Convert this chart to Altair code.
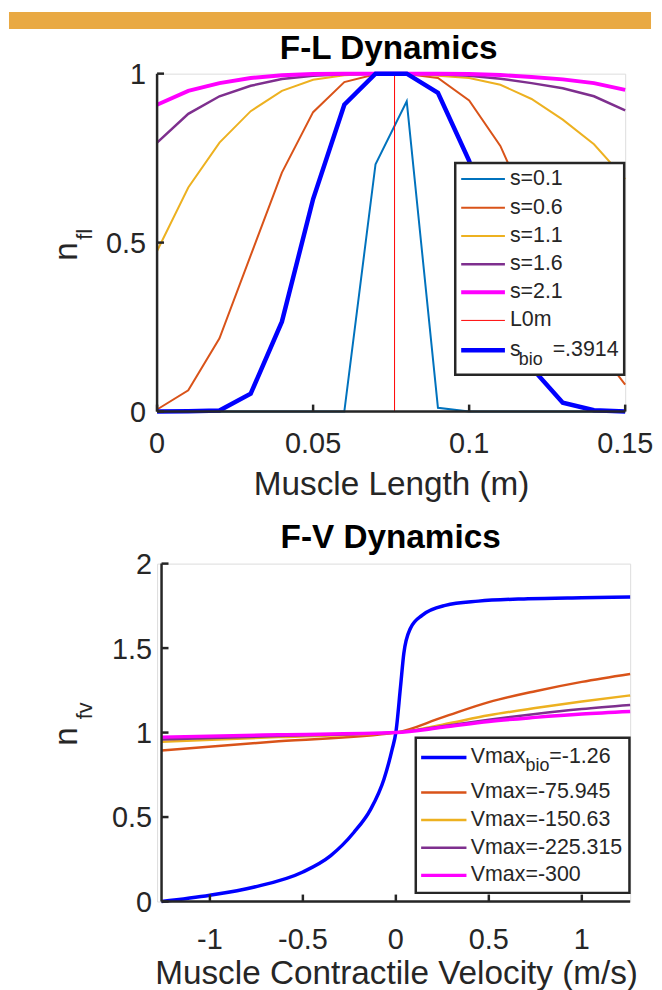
import altair as alt
import pandas as pd

FONT = "Liberation Sans"
TXT = "#262626"

# ---------------- F-L Dynamics data ----------------
muscle_length = [0.00, 0.01, 0.02, 0.03, 0.04, 0.05, 0.06, 0.07,
                 0.08, 0.09, 0.10, 0.11, 0.12, 0.13, 0.14, 0.15]
fl_s01 = [0, 0, 0, 0, 0, 0, 0, 0.732, 0.918, 0.011, 0, 0, 0, 0, 0, 0]
fl_s06 = [0.006, 0.063, 0.217, 0.462, 0.707, 0.886, 0.975, 0.998,
          0.999, 0.987, 0.921, 0.786, 0.580, 0.380, 0.200, 0.080]
fl_s11 = [0.475, 0.663, 0.796, 0.889, 0.949, 0.982, 0.995, 1.0,
          1.0, 0.994, 0.987, 0.967, 0.925, 0.864, 0.791, 0.688]
fl_s16 = [0.796, 0.881, 0.933, 0.964, 0.984, 0.994, 0.998, 1.0,
          1.0, 0.998, 0.994, 0.985, 0.972, 0.957, 0.933, 0.891]
fl_s21 = [0.908, 0.949, 0.972, 0.987, 0.995, 0.999, 1.0, 1.0,
          1.0, 1.0, 0.999, 0.996, 0.990, 0.983, 0.972, 0.952]
fl_sbio = [0, 0.001, 0.003, 0.053, 0.266, 0.629, 0.908, 1.0,
           1.0, 0.943, 0.742, 0.420, 0.130, 0.026, 0.004, 0]
L0m = 0.0761
fl_labels = ["s=0.1", "s=0.6", "s=1.1", "s=1.6", "s=2.1", "L0m", "s"]
fl_bio_sub = "bio"
fl_bio_rest = "=.3914"
fl_colors = ["#0072BD", "#D95319", "#EDB120", "#7E2F8E", "#FF00FF", "#FF0000", "#0000FF"]
fl_widths = [2, 2, 2, 2.5, 4, 1, 4.5]

# ---------------- F-V Dynamics data ----------------
v_bio = [-1.26, -1.0, -0.76, -0.5, -0.35, -0.225, -0.135, -0.064, -0.02, 0.0,
         0.025, 0.043, 0.078, 0.141, 0.266, 0.444, 0.711, 1.0, 1.26]
fv_bio = [0.0, 0.037, 0.086, 0.175, 0.272, 0.41, 0.547, 0.724, 0.9, 1.0,
          1.27, 1.47, 1.616, 1.694, 1.753, 1.778, 1.792, 1.798, 1.802]
v_grid = [-1.26, -0.63, 0.0, 0.25, 0.5, 0.75, 1.0, 1.26]
fv_75 = [0.894, 0.948, 1.0, 1.09, 1.18, 1.245, 1.30, 1.347]
fv_150 = [0.945, 0.973, 1.0, 1.047, 1.102, 1.145, 1.184, 1.22]
fv_225 = [0.959, 0.980, 1.0, 1.037, 1.076, 1.110, 1.139, 1.163]
fv_300 = [0.973, 0.987, 1.0, 1.031, 1.066, 1.090, 1.110, 1.125]
fv_labels = ["Vmax", "Vmax=-75.945", "Vmax=-150.63", "Vmax=-225.315", "Vmax=-300"]
fv_bio_sub = "bio"
fv_bio_rest = "=-1.26"
fv_colors = ["#0000FF", "#D95319", "#EDB120", "#7E2F8E", "#FF00FF"]
fv_widths = [3.5, 2.5, 2.5, 2.5, 3.5]

fl_xticks = [0, 0.05, 0.1, 0.15]
fl_xtick_labels = ["0", "0.05", "0.1", "0.15"]
fl_yticks = [0, 0.5, 1]
fl_ytick_labels = ["0", "0.5", "1"]
fv_xticks = [-1, -0.5, 0, 0.5, 1]
fv_xtick_labels = ["-1", "-0.5", "0", "0.5", "1"]
fv_yticks = [0, 0.5, 1, 1.5, 2]
fv_ytick_labels = ["0", "0.5", "1", "1.5", "2"]

TOP_W, TOP_H = 471, 340
BOT_W, BOT_H = 476, 340
TICK_FS = 29
TITLE_FS = 33.5
LEG_FS = 21.5

xs_top = alt.Scale(domain=[0, 0.15], nice=False, zero=False)
ys_top = alt.Scale(domain=[0, 1], nice=False, zero=False)
xs_bot = alt.Scale(domain=[-1.26, 1.26], nice=False, zero=False, range=[4.5, BOT_W])
ys_bot = alt.Scale(domain=[0, 2], nice=False, zero=False)

ONE = alt.Data(values=[{}])


def txt(s, x, y, size, align="left", baseline="middle", angle=0, weight="normal", color=TXT):
    kw = dict(font=FONT, fontSize=size, align=align, baseline=baseline,
              color=color, fontWeight=weight)
    if angle:
        kw["angle"] = angle
    return alt.Chart(alt.Data(values=[{"t": s}])).mark_text(**kw).encode(
        text="t:N", x=alt.value(x), y=alt.value(y))


def seg(x1, x2, y1, y2, color, width):
    return alt.Chart(ONE).mark_rule(color=color, strokeWidth=width).encode(
        x=alt.value(x1), x2=alt.value(x2), y=alt.value(y1), y2=alt.value(y2))


def axes_layers(xs, ys, xt, xtl, yt, ytl, x0, h, w, xlab_y, ylab_x):
    out = []
    out.append(seg(x0, w, h, h, TXT, 2.5))          # x axis line
    out.append(seg(x0, x0, 0, h, TXT, 2.5))         # y axis line
    out.append(alt.Chart(pd.DataFrame({"t": xt})).mark_rule(color=TXT, strokeWidth=2.5).encode(
        x=alt.X("t:Q", scale=xs, axis=None), y=alt.value(h - 7), y2=alt.value(h)))
    out.append(alt.Chart(pd.DataFrame({"t": yt})).mark_rule(color=TXT, strokeWidth=2.5).encode(
        y=alt.Y("t:Q", scale=ys, axis=None), x=alt.value(x0), x2=alt.value(x0 + 7)))
    out.append(alt.Chart(pd.DataFrame({"t": xt, "l": xtl})).mark_text(
        font=FONT, fontSize=TICK_FS, color=TXT, align="center", baseline="alphabetic").encode(
        x=alt.X("t:Q", scale=xs, axis=None), y=alt.value(xlab_y), text="l:N"))
    out.append(alt.Chart(pd.DataFrame({"t": yt, "l": ytl})).mark_text(
        font=FONT, fontSize=TICK_FS, color=TXT, align="right", baseline="alphabetic", dy=10.5).encode(
        y=alt.Y("t:Q", scale=ys, axis=None), x=alt.value(ylab_x), text="l:N"))
    return out


# ---------------- top panel ----------------
fl_series = [fl_s01, fl_s06, fl_s11, fl_s16, fl_s21]
top_layers = []
top_layers.append(alt.Chart(ONE).mark_rect(color="#E9A943").encode(
    x=alt.value(-149), x2=alt.value(497), y=alt.value(-62), y2=alt.value(-45)))

for i, ser in enumerate(fl_series):
    df = pd.DataFrame({"x": muscle_length, "y": ser})
    top_layers.append(alt.Chart(df).mark_line(color=fl_colors[i], strokeWidth=fl_widths[i]).encode(
        x=alt.X("x:Q", scale=xs_top, axis=None),
        y=alt.Y("y:Q", scale=ys_top, axis=None)))

df_l0 = pd.DataFrame({"x": [L0m], "y0": [0], "y1": [1]})
top_layers.append(alt.Chart(df_l0).mark_rule(color=fl_colors[5], strokeWidth=fl_widths[5]).encode(
    x=alt.X("x:Q", scale=xs_top, axis=None),
    y=alt.Y("y0:Q", scale=ys_top, axis=None), y2="y1:Q"))

df_bio = pd.DataFrame({"x": muscle_length, "y": fl_sbio})
top_layers.append(alt.Chart(df_bio).mark_line(color=fl_colors[6], strokeWidth=fl_widths[6]).encode(
    x=alt.X("x:Q", scale=xs_top, axis=None),
    y=alt.Y("y:Q", scale=ys_top, axis=None)))

top_layers += axes_layers(xs_top, ys_top, fl_xticks, fl_xtick_labels, fl_yticks, fl_ytick_labels,
                          0, TOP_H, TOP_W, 381.5, -11)

# legend
top_layers.append(alt.Chart(ONE).mark_rect(fill="white", stroke=TXT, strokeWidth=2.5).encode(
    x=alt.value(300), x2=alt.value(470), y=alt.value(90), y2=alt.value(303)))
rows = [106, 135, 163.3, 191.7, 220, 248.3, 278.3]
for i, lab in enumerate(fl_labels):
    top_layers.append(seg(306, 350, rows[i], rows[i], fl_colors[i], fl_widths[i]))
    top_layers.append(txt(lab, 355, rows[i], LEG_FS))
top_layers.append(txt(fl_bio_sub, 364, rows[6] + 10, 18))
top_layers.append(txt(fl_bio_rest, 398, rows[6], LEG_FS))

# titles
top_layers.append(txt("F-L Dynamics", 233, -25, TITLE_FS, align="center", weight="bold", color="black"))
top_layers.append(txt("n", -90.5, 179, TITLE_FS, align="center", angle=270))
top_layers.append(txt("fl", -72.3, 161.7, 22, align="center", angle=270))
top_layers.append(txt("Muscle Length (m)", 236, 414, TITLE_FS, align="center"))

top = alt.layer(*top_layers).properties(width=TOP_W, height=TOP_H)

# ---------------- bottom panel ----------------
fv_sets = [(v_bio, fv_bio), (v_grid, fv_75), (v_grid, fv_150), (v_grid, fv_225), (v_grid, fv_300)]
bot_layers = []
for i, (xv, yv) in enumerate(fv_sets):
    df = pd.DataFrame({"x": xv, "y": yv})
    bot_layers.append(alt.Chart(df).mark_line(color=fv_colors[i], strokeWidth=fv_widths[i],
                                              interpolate="monotone").encode(
        x=alt.X("x:Q", scale=xs_bot, axis=None),
        y=alt.Y("y:Q", scale=ys_bot, axis=None)))

bot_layers += axes_layers(xs_bot, ys_bot, fv_xticks, fv_xtick_labels, fv_yticks, fv_ytick_labels,
                          4.5, BOT_H, BOT_W, 387.5, -5)

bot_layers.append(alt.Chart(ONE).mark_rect(fill="white", stroke=TXT, strokeWidth=2.5).encode(
    x=alt.value(260.3), x2=alt.value(475.3), y=alt.value(175.3), y2=alt.value(331.3)))
brows = [195, 230.3, 258, 286, 313.7]
for i, lab in enumerate(fv_labels):
    bot_layers.append(seg(265.7, 311.3, brows[i], brows[i], fv_colors[i], fv_widths[i]))
    bot_layers.append(txt(lab, 315.7, brows[i], LEG_FS))
bot_layers.append(txt(fv_bio_sub, 370.7, brows[0] + 9, 18))
bot_layers.append(txt(fv_bio_rest, 394.7, brows[0], LEG_FS))

bot_layers.append(txt("F-V Dynamics", 235, -26, TITLE_FS, align="center", weight="bold", color="black"))
bot_layers.append(txt("n", -90.5, 174, TITLE_FS, align="center", angle=270))
bot_layers.append(txt("fv", -72.3, 148, 22, align="center", angle=270))
bot_layers.append(txt("Muscle Contractile Velocity (m/s)", 241, 413, TITLE_FS, align="center"))

bottom = alt.layer(*bot_layers).properties(width=BOT_W, height=BOT_H)

chart = alt.vconcat(top, bottom, spacing=153, bounds="flush").properties(
    padding=0, background="white"
).configure_view(stroke=None).configure(font=FONT)

chart.save("out.html", embed_options={"renderer": "svg", "actions": False})
